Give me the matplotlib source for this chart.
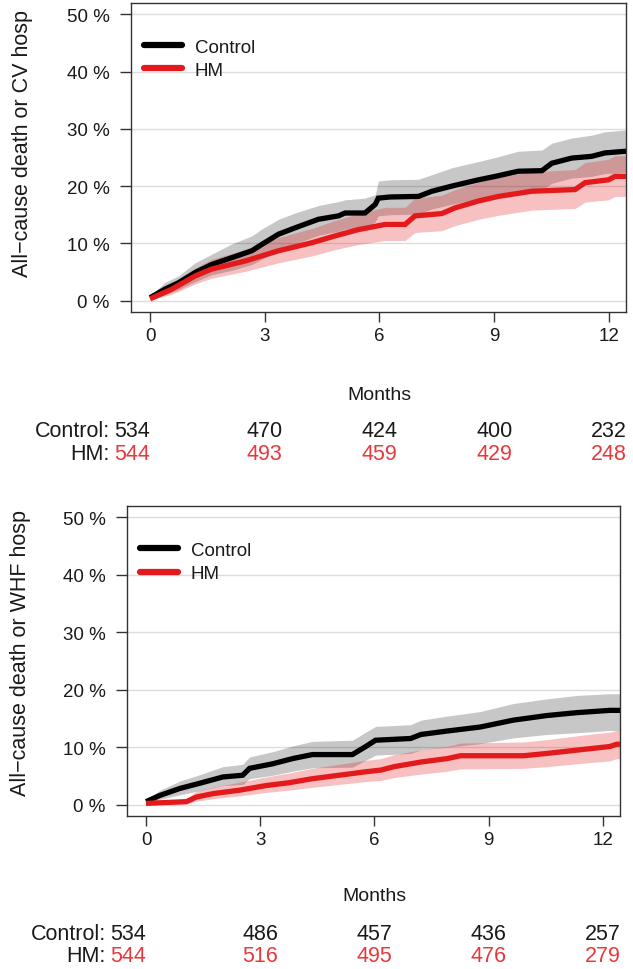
import matplotlib
matplotlib.use("Agg")
import matplotlib.pyplot as plt

plt.rcParams['font.family'] = ['Liberation Sans', 'DejaVu Sans']

# ---------------- data ----------------
months_ticks = [0, 3, 6, 9, 12]
ytick_vals = [0, 10, 20, 30, 40, 50]
ytick_labels = ["0 %", "10 %", "20 %", "30 %", "40 %", "50 %"]
groups = ["Control", "HM"]

# Panel 1: All-cause death or CV hosp
p1_ctrl_t = [0, 0.39, 0.74, 1.18, 1.61, 2.14, 2.66, 2.92, 3.36, 3.79, 4.40, 4.93, 5.10, 5.62, 5.89, 5.97,
             6.28, 7.02, 7.37, 7.89, 8.59, 9.03, 9.63, 10.25, 10.51, 11.03, 11.55, 11.90, 12.45]
p1_ctrl_est = [0.5, 2.0, 3.1, 4.9, 6.3, 7.5, 8.7, 9.8, 11.6, 12.7, 14.2, 14.8, 15.3, 15.3, 16.8, 17.9,
               18.1, 18.2, 19.1, 20.0, 21.1, 21.7, 22.6, 22.7, 24.0, 24.9, 25.2, 25.8, 26.1]
p1_ctrl_hi = [0.8, 3.2, 4.3, 6.6, 8.1, 9.9, 11.3, 12.5, 14.2, 15.3, 16.6, 17.3, 17.6, 17.9, 18.5, 20.9,
              21.1, 21.2, 22.0, 23.2, 24.3, 25.0, 26.1, 26.3, 27.5, 28.4, 28.9, 29.5, 29.8]
p1_ctrl_lo = [0.2, 1.0, 1.9, 3.3, 4.5, 5.3, 6.3, 7.2, 8.9, 9.9, 11.4, 12.1, 12.5, 12.5, 13.8, 14.8,
              15.0, 15.1, 16.0, 16.8, 17.8, 18.4, 19.3, 19.3, 20.5, 21.4, 21.7, 22.2, 22.4]

p1_hm_t = [0, 0.57, 1.18, 1.61, 2.48, 3.36, 4.23, 4.84, 5.45, 6.15, 6.67, 6.93, 7.63, 7.98, 8.59,
           9.11, 9.98, 11.12, 11.38, 11.99, 12.16, 12.45]
p1_hm_est = [0.3, 2.0, 4.3, 5.5, 6.9, 8.7, 10.1, 11.3, 12.4, 13.3, 13.3, 14.8, 15.2, 16.2, 17.4,
             18.2, 19.1, 19.4, 20.6, 21.1, 21.7, 21.7]
p1_hm_hi = [0.6, 3.0, 5.7, 7.2, 8.9, 11.0, 12.6, 14.0, 15.2, 16.3, 16.3, 17.9, 18.4, 19.4, 20.7,
            21.6, 22.5, 22.9, 24.1, 24.7, 25.3, 25.3]
p1_hm_lo = [0.1, 1.1, 2.9, 3.9, 5.1, 6.6, 7.8, 8.9, 9.8, 10.5, 10.5, 11.9, 12.2, 13.1, 14.2,
            14.9, 15.8, 16.1, 17.2, 17.6, 18.2, 18.2]

p1_risk_ctrl = [534, 470, 424, 400, 232]
p1_risk_hm = [544, 493, 459, 429, 248]

# Panel 2: All-cause death or WHF hosp
p2_ctrl_t = [0, 0.37, 0.89, 1.41, 2.02, 2.54, 2.72, 3.33, 3.85, 4.37, 5.42, 5.77, 6.03, 6.95, 7.22,
             7.91, 8.78, 9.65, 10.53, 11.31, 12.18, 12.45]
p2_ctrl_est = [0.5, 1.6, 2.8, 3.7, 4.8, 5.1, 6.3, 7.1, 8.0, 8.7, 8.7, 10.1, 11.2, 11.5, 12.2,
               12.8, 13.5, 14.7, 15.5, 16.0, 16.4, 16.4]
p2_ctrl_hi = [0.8, 2.5, 4.1, 5.2, 6.6, 7.0, 8.3, 9.2, 10.2, 11.0, 11.2, 12.6, 13.6, 13.9, 14.7,
              15.4, 16.2, 17.6, 18.4, 19.0, 19.3, 19.3]
p2_ctrl_lo = [0.2, 0.9, 1.7, 2.4, 3.3, 3.5, 4.5, 5.1, 5.8, 6.4, 6.5, 7.7, 8.6, 8.9, 9.5,
              10.0, 10.6, 11.6, 12.2, 12.5, 12.9, 12.9]

p2_hm_t = [0, 1.06, 1.32, 1.76, 2.46, 3.15, 3.76, 4.37, 5.07, 5.77, 6.17, 6.52, 7.22, 7.91, 8.26,
           9.92, 10.53, 11.49, 12.18, 12.36, 12.45]
p2_hm_est = [0.2, 0.5, 1.3, 1.9, 2.5, 3.3, 3.8, 4.5, 5.1, 5.7, 6.0, 6.6, 7.4, 8.0, 8.5,
             8.5, 8.9, 9.6, 10.1, 10.5, 10.5]
p2_hm_hi = [0.4, 1.0, 2.3, 3.0, 3.9, 4.8, 5.5, 6.3, 7.0, 7.7, 8.0, 8.7, 9.5, 10.1, 10.7,
            10.9, 11.3, 12.1, 12.6, 12.9, 12.9]
p2_hm_lo = [0.0, 0.1, 0.6, 1.0, 1.5, 2.1, 2.5, 3.0, 3.5, 4.0, 4.2, 4.7, 5.3, 5.8, 6.2,
            6.3, 6.6, 7.2, 7.6, 8.0, 8.0]

p2_risk_ctrl = [534, 486, 457, 436, 257]
p2_risk_hm = [544, 516, 495, 476, 279]

# ---------------- style ----------------
BLACK = "#000000"
RED = "#E31A1C"
RED_TXT = "#E8383D"
TXT = "#1a1a1a"

W, H = 633, 970
fig = plt.figure(figsize=(W / 100, H / 100), dpi=100)


def px_axes(left, top, right, bottom):
    return fig.add_axes([left / W, 1 - bottom / H, (right - left) / W, (bottom - top) / H])


def panel(ax, ylabel, label_xy, curves, risk_ctrl, risk_hm, months_y, ctrl_y, hm_y):
    ax.set_xlim(-0.5, 12.45)
    ax.set_ylim(-2, 52)
    ax.set_yticks(ytick_vals)
    ax.set_yticklabels(ytick_labels)
    ax.set_xticks(months_ticks)
    ax.yaxis.grid(True, color="#dcdcdc", lw=1.0, zorder=0)
    ax.set_axisbelow(True)
    for s in ax.spines.values():
        s.set_color("#333333")
        s.set_linewidth(1.0)
    ax.tick_params(axis="y", length=8, width=1.0, color="#333333", pad=7.5, labelsize=13.5, labelcolor=TXT)
    ax.tick_params(axis="x", length=7, width=1.0, color="#333333", pad=4, labelsize=13.5, labelcolor=TXT)
    ax.set_ylabel(ylabel, fontsize=15.5, color=TXT)
    ax.yaxis.set_label_coords(*label_xy)

    handles = []
    for (t, est, lo, hi, col, alpha) in curves:
        ax.fill_between(t, lo, hi, color=col, alpha=alpha, lw=0, zorder=2)
    for (t, est, lo, hi, col, alpha), name in zip(curves, groups):
        h, = ax.plot(t, est, color=col, lw=3.8, zorder=3, label=name,
                     solid_capstyle="butt", solid_joinstyle="miter")
        handles.append(h)
    leg = ax.legend(handles=handles, loc="upper left", bbox_to_anchor=(0.027, 0.885),
                    frameon=False, fontsize=13.5, handlelength=2.0, handletextpad=0.7,
                    labelspacing=0.33, borderpad=0, borderaxespad=0)
    for line in leg.get_lines():
        line.set_linewidth(4.5)
        line.set_solid_capstyle("round")
    for txt in leg.get_texts():
        txt.set_color(TXT)

    ax.annotate("Months", xy=(6, months_y), xycoords=("data", "figure pixels"),
                ha="center", va="center", fontsize=14, color=TXT, annotation_clip=False)
    # risk table
    for row_y, label, vals, col in [(ctrl_y, "Control:", risk_ctrl, TXT), (hm_y, "HM:", risk_hm, RED_TXT)]:
        ax.annotate(label, xy=(0, row_y), xycoords=("data", "figure pixels"),
                    xytext=(-40, 0), textcoords="offset pixels",
                    ha="right", va="center", fontsize=15.5, color=TXT, annotation_clip=False)
        for i, (m, v) in enumerate(zip(months_ticks, vals)):
            if i == 0:
                ax.annotate(str(v), xy=(m, row_y), xycoords=("data", "figure pixels"),
                            xytext=(0, 0), textcoords="offset pixels",
                            ha="right", va="center", fontsize=15.5, color=col, annotation_clip=False)
            else:
                ax.annotate(str(v), xy=(m, row_y), xycoords=("data", "figure pixels"),
                            ha="center", va="center", fontsize=15.5, color=col, annotation_clip=False)


ax1 = px_axes(131, 4, 626, 313)
panel(ax1, "All\u2212cause death or CV hosp", (-0.198, 0.55),
      [(p1_ctrl_t, p1_ctrl_est, p1_ctrl_lo, p1_ctrl_hi, BLACK, 0.22),
       (p1_hm_t, p1_hm_est, p1_hm_lo, p1_hm_hi, RED, 0.27)],
      p1_risk_ctrl, p1_risk_hm, H - 396, H - 432, H - 455)

ax2 = px_axes(127, 507, 620, 817)
panel(ax2, "All\u2212cause death or WHF hosp", (-0.195, 0.53),
      [(p2_ctrl_t, p2_ctrl_est, p2_ctrl_lo, p2_ctrl_hi, BLACK, 0.22),
       (p2_hm_t, p2_hm_est, p2_hm_lo, p2_hm_hi, RED, 0.27)],
      p2_risk_ctrl, p2_risk_hm, H - 897, H - 935, H - 957)

fig.savefig("out.png", dpi=100, facecolor="white")
